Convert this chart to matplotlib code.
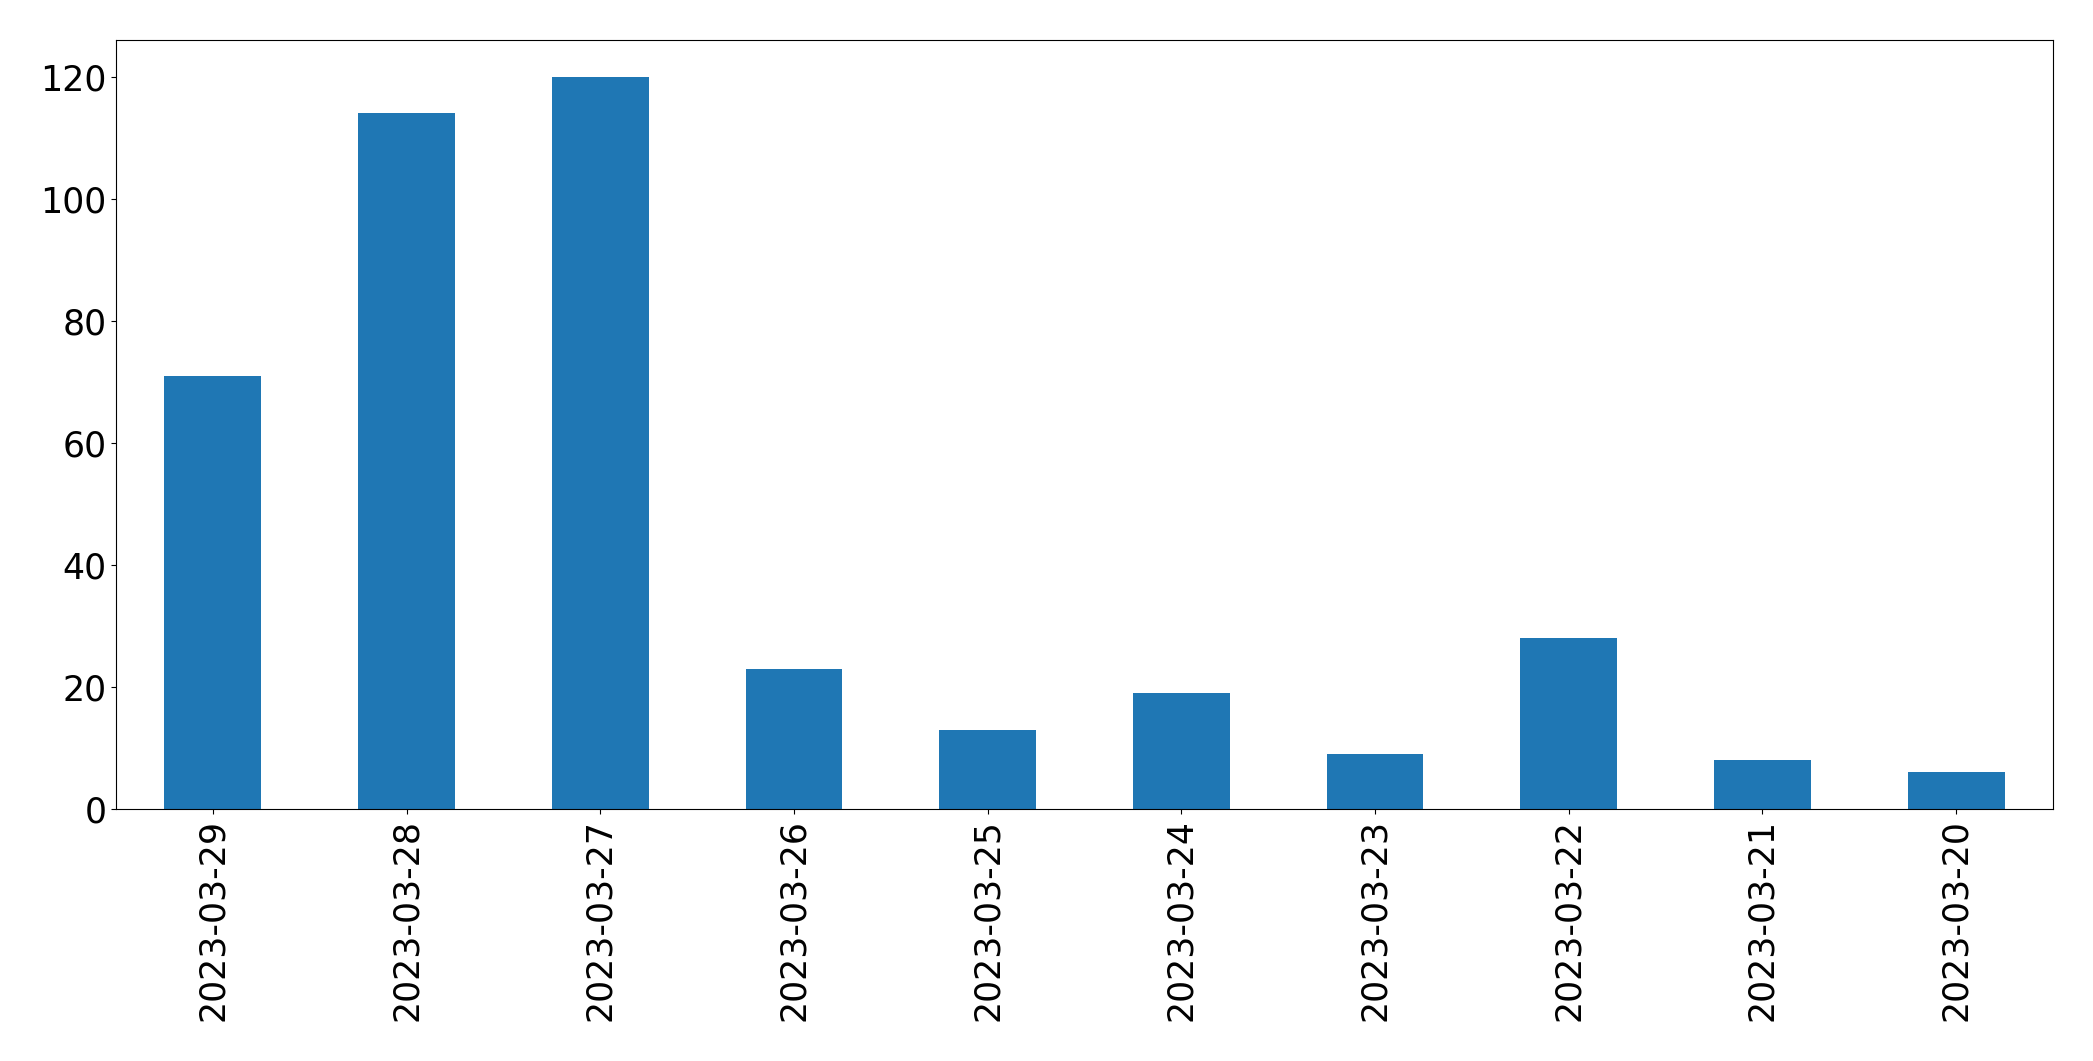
import matplotlib
import matplotlib.pyplot as plt

matplotlib.use('Agg')

dates = ['2023-03-29', '2023-03-28', '2023-03-27', '2023-03-26', '2023-03-25',
         '2023-03-24', '2023-03-23', '2023-03-22', '2023-03-21', '2023-03-20']
counts = [71, 114, 120, 23, 13, 19, 9, 28, 8, 6]

fig = plt.figure(figsize=(20.93, 10.61), dpi=100)
ax = fig.add_axes([116 / 2093, 1 - 809 / 1061, (2053 - 116) / 2093, (809 - 40) / 1061])
x = range(len(dates))
ax.bar(x, counts, width=0.5, color='#1f77b4')
ax.set_xticks(list(x))
ax.set_xticklabels(dates, rotation=90)
ax.set_xlim(-0.5, len(dates) - 0.5)
ax.tick_params(labelsize=25)

fig.savefig('out.png', dpi=100)
